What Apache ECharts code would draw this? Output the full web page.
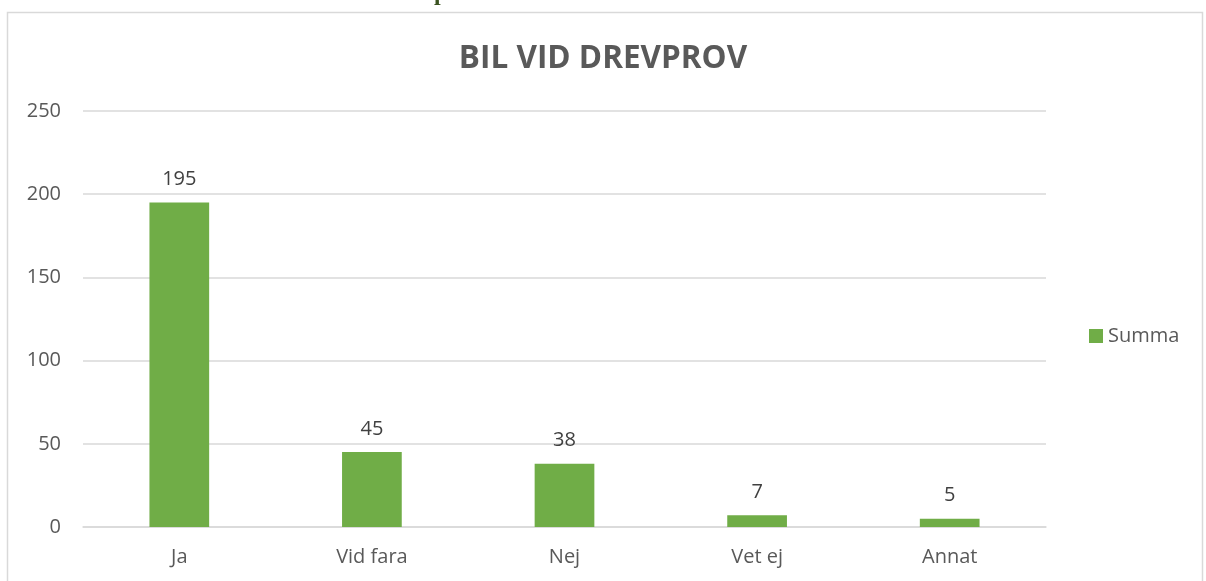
<!DOCTYPE html>
<html>
<head>
<meta charset="utf-8">
<script src="https://cdn.jsdelivr.net/npm/echarts@6/dist/echarts.min.js"></script>
<style>
html,body{margin:0;padding:0;background:#fff;}
#chart{width:1206px;height:581px;}
</style>
</head>
<body>
<div id="chart"></div>
<script>
const categories = ["Ja", "Vid fara", "Nej", "Vet ej", "Annat"];
const summaValues = [195, 45, 38, 7, 5];
const yTicks = { min: 0, max: 250, interval: 50 };
const seriesName = "Summa";
const titleText = "BIL VID DREVPROV";

const FONT = "'Open Sans', sans-serif";
const chart = echarts.init(document.getElementById('chart'), null, { renderer: 'canvas' });
chart.setOption({
  backgroundColor: '#ffffff',
  animation: false,
  title: {
    text: titleText,
    left: 'center',
    top: 38,
    textStyle: { fontFamily: FONT, fontSize: 31.5, fontWeight: 'bold', color: '#595959' }
  },
  legend: {
    left: 1084,
    top: 321,
    orient: 'vertical',
    itemWidth: 14,
    itemHeight: 14,
    itemGap: 5,
    icon: 'rect',
    textStyle: { fontFamily: FONT, fontSize: 20, color: '#595959' },
    data: [seriesName]
  },
  grid: { left: 83, right: 160, top: 111, bottom: 54, containLabel: false },
  xAxis: {
    type: 'category',
    data: categories,
    axisLine: { lineStyle: { color: '#d9d9d9', width: 1.5 } },
    axisTick: { show: false },
    axisLabel: { fontFamily: FONT, fontSize: 20, color: '#595959', margin: 20 }
  },
  yAxis: {
    type: 'value',
    min: yTicks.min,
    max: yTicks.max,
    interval: yTicks.interval,
    axisLine: { show: false },
    axisTick: { show: false },
    splitLine: { lineStyle: { color: '#d9d9d9', width: 1.5 } },
    axisLabel: { fontFamily: FONT, fontSize: 20, color: '#595959', margin: 22 }
  },
  series: [{
    name: seriesName,
    type: 'bar',
    data: summaValues,
    barWidth: '31%',
    itemStyle: { color: '#70AD47' },
    label: {
      show: true,
      position: 'top',
      distance: 13,
      fontFamily: FONT,
      fontSize: 20,
      color: '#404040'
    }
  }],
  graphic: [
    {
      type: 'rect',
      shape: { x: 7.5, y: 12.5, width: 1195, height: 600 },
      style: { fill: 'none', stroke: '#d9d9d9', lineWidth: 1.5 },
      silent: true
    },
    {
      type: 'text',
      left: 434,
      top: -18,
      style: { text: 'p', font: "bold 24px 'Liberation Serif', serif", fill: '#3B5320' },
      silent: true
    }
  ]
});
</script>
</body>
</html>
